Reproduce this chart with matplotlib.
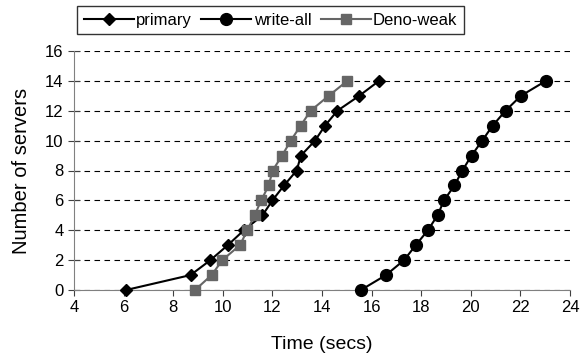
import numpy as np
import matplotlib
matplotlib.use("Agg")
import matplotlib.pyplot as plt

plt.rcParams['font.family'] = ['Liberation Sans', 'DejaVu Sans']

servers = np.arange(0, 15)
primary = [6.1, 8.7, 9.5, 10.2, 10.85, 11.6, 12.0, 12.47, 12.98, 13.15,
           13.72, 14.12, 14.62, 15.5, 16.3]
write_all = [15.57, 16.58, 17.31, 17.78, 18.27, 18.66, 18.92, 19.34, 19.66, 20.03,
             20.46, 20.88, 21.40, 22.02, 23.03]
deno_weak = [8.88, 9.55, 9.98, 10.69, 10.99, 11.28, 11.55, 11.85, 12.01, 12.39,
             12.74, 13.14, 13.54, 14.27, 15.02]

fig = plt.figure(figsize=(5.82, 3.56), dpi=100)
ax = fig.add_axes([74/582, 1-290/356, 496/582, 239/356])

ax.plot(primary, servers, color='black', marker='D', markersize=6.5, lw=1.5, label='primary', clip_on=False, zorder=3)
ax.plot(write_all, servers, color='black', marker='o', markersize=8.5, lw=1.5, label='write-all', clip_on=False, zorder=3)
ax.plot(deno_weak, servers, color='#666666', marker='s', markersize=6.5, lw=1.5, label='Deno-weak', clip_on=False, zorder=3)

ax.set_xlim(4, 24)
ax.set_ylim(0, 16)
ax.set_xticks(range(4, 25, 2))
ax.set_yticks(range(0, 17, 2))
ax.yaxis.grid(True, linestyle=(0, (5, 4)), color='black', lw=0.8)
ax.set_axisbelow(True)
for s in ['top', 'right']:
    ax.spines[s].set_visible(False)
ax.spines['left'].set_color('#808080')
ax.spines['bottom'].set_color('#808080')
ax.tick_params(axis='both', labelsize=12, color='#404040', length=4)
ax.tick_params(axis='y', direction='inout', length=8)
ax.set_xlabel('Time (secs)', fontsize=14, labelpad=15)
ax.set_ylabel('Number of servers', fontsize=14.5, labelpad=10)

fig.legend(loc='upper left', bbox_to_anchor=(77/582, 1-6/356), ncol=3, frameon=True,
           fancybox=False, edgecolor='black', fontsize=12, handlelength=3,
           borderpad=0.4, columnspacing=0.55, handletextpad=0.15, borderaxespad=0)

fig.savefig('out.png', dpi=100)
